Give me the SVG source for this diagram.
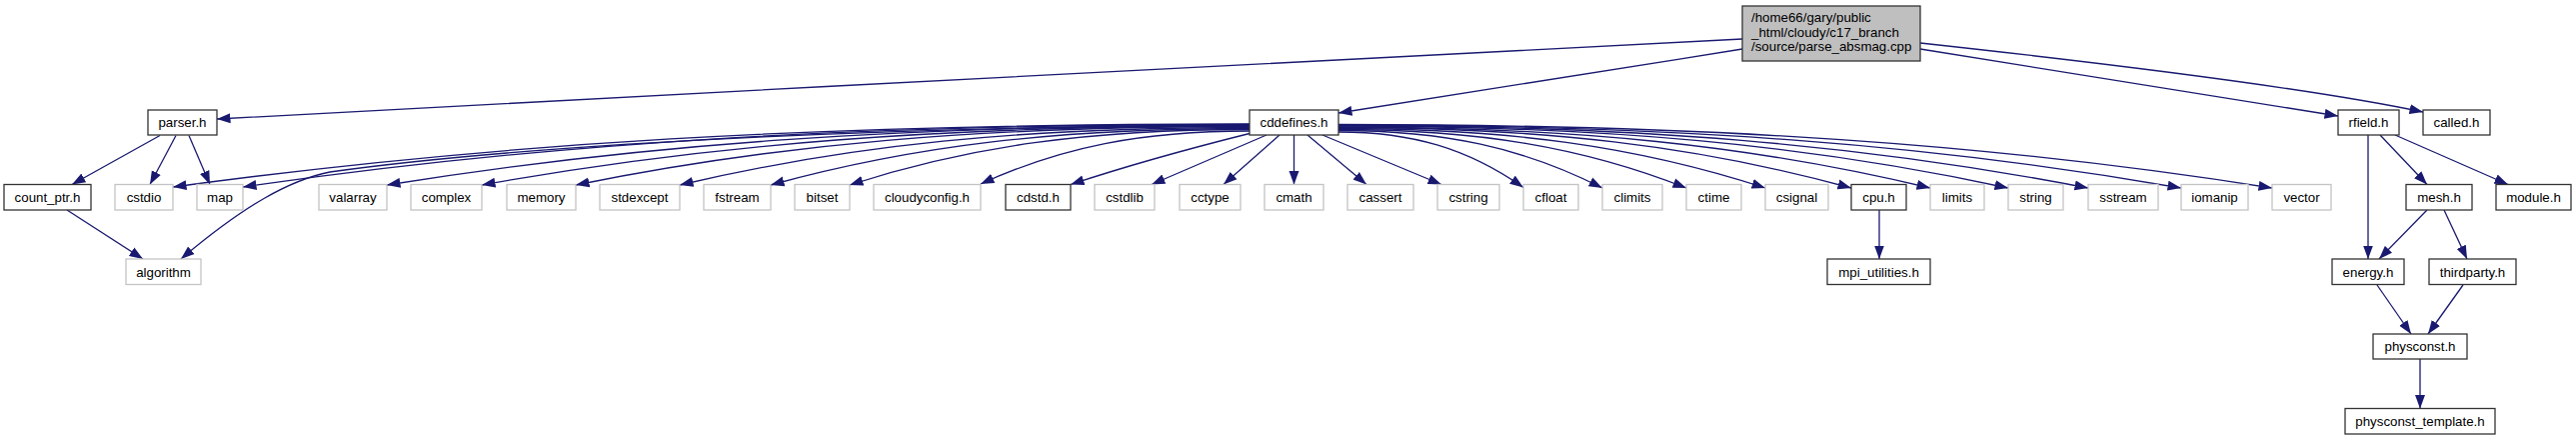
<svg xmlns="http://www.w3.org/2000/svg" width="2577" height="440" viewBox="0 0 2577 440">
<style>
rect{stroke-width:1.3}
.d{fill:#fff;stroke:#333}
.u{fill:#fff;stroke:#c4c4c4}
.m{fill:#bfbfbf;stroke:#333}
text{font-family:"Liberation Sans",Arial,Helvetica,sans-serif;font-size:13.3px;fill:#000;text-anchor:middle}
.l{text-anchor:start}
#edges path{fill:none;stroke:#191970;stroke-width:1.3;marker-end:url(#arr)}
</style>
<defs>
<marker id="arr" markerUnits="userSpaceOnUse" markerWidth="14" markerHeight="11" viewBox="0 0 14 11" refX="13.5" refY="5.5" orient="auto">
<path d="M0,0.5 L13.5,5.5 L0,10.5 z" fill="#191970"/>
</marker>
</defs>
<rect width="2577" height="440" fill="#fff"/>
<g id="edges">
<path d="M1743,39 C1400,56 700,93 217,119"/>
<path d="M1743,49 C1600,72 1450,95 1339,113"/>
<path d="M1921,49 C2080,74 2230,98 2339,116"/>
<path d="M1921,43 C2150,68 2320,90 2424,112"/>
<path d="M160,135.5 L72,184.5"/>
<path d="M176,135.5 L150,184.5"/>
<path d="M189,135.5 L210,184.5"/>
<path d="M67,210 L143,259"/>
<path d="M1250,124 C819,124 496,142.9 173,187"/>
<path d="M1250,124.5 C847,124.5 545,143.2 243,187"/>
<path d="M1250,125 C950,126 560,140 330,172 C290,180 245,205 181,259"/>
<path d="M1250,125.5 C905,125.5 646,143.4 387,185"/>
<path d="M1250,126 C943,126 712,143.7 482,185"/>
<path d="M1250,126.5 C980,126.5 778,144 576,185"/>
<path d="M1250,127.5 C1022,127.5 851,144.8 680,185"/>
<path d="M1250,128.5 C1058,128.5 915,145.5 771,185"/>
<path d="M1250,129.5 C1090,129.5 970,146.2 850,185"/>
<path d="M1250,131 C1142,131 1062,146.9 981,184"/>
<path d="M1250,133.5 C1200,146 1130,165 1071,184.5"/>
<path d="M1267,135 L1152,184.5"/>
<path d="M1280,135 L1224,184.5"/>
<path d="M1294.5,135 L1294.5,184.5"/>
<path d="M1308,135 L1367,184.5"/>
<path d="M1323,135 L1442,184.5"/>
<path d="M1339,132 C1413,132 1468.5,148.7 1524,187.5"/>
<path d="M1339,130.5 C1445,130.5 1524,147.8 1603,188"/>
<path d="M1339,129.5 C1478,129.5 1583,147 1687,188"/>
<path d="M1339,128.5 C1510,128.5 1638,146.4 1766,188"/>
<path d="M1339,127.5 C1544,127.5 1698,145.7 1852,188"/>
<path d="M1339,127 C1576,127 1753,145.3 1931,188"/>
<path d="M1339,126 C1607,126 1808,144.6 2009,188"/>
<path d="M1339,125.5 C1639,125.5 1864,144.3 2089,188"/>
<path d="M1339,125 C1676,125 1929,143.9 2182,188"/>
<path d="M1339,124.5 C1713,124.5 1993,143.6 2273,188"/>
<path d="M1880,210 L1880,259"/>
<path d="M2369,135 L2369,259"/>
<path d="M2381,135 L2428,184.5"/>
<path d="M2396,135 L2509,184.5"/>
<path d="M2428,210 L2380,259"/>
<path d="M2445,210 L2468,259"/>
<path d="M2378,285 L2412,334"/>
<path d="M2464,285 L2429,334"/>
<path d="M2421,359 L2421,408.5"/>
</g>
<g id="main"><rect class="m" x="1743" y="6" width="178" height="55"/><text class="l" x="1752" y="22">/home66/gary/public</text><text class="l" x="1752" y="36.7">_html/cloudy/c17_branch</text><text class="l" x="1752" y="51.3">/source/parse_absmag.cpp</text></g>
<g id="parser_h"><rect class="d" x="148" y="110" width="69" height="25"/><text x="182.5" y="127.2">parser.h</text></g>
<g id="cddefines_h"><rect class="d" x="1250" y="110" width="89" height="25"/><text x="1294.5" y="127.2">cddefines.h</text></g>
<g id="rfield_h"><rect class="d" x="2339" y="110" width="61" height="25"/><text x="2369.5" y="127.2">rfield.h</text></g>
<g id="called_h"><rect class="d" x="2424" y="110" width="67" height="25"/><text x="2457.5" y="127.2">called.h</text></g>
<g id="count_ptr_h"><rect class="d" x="4" y="184.5" width="87" height="25.5"/><text x="47.5" y="202">count_ptr.h</text></g>
<g id="cstdio"><rect class="u" x="115" y="184.5" width="58" height="25.5"/><text x="144" y="202">cstdio</text></g>
<g id="map"><rect class="u" x="197" y="184.5" width="46" height="25.5"/><text x="220" y="202">map</text></g>
<g id="valarray"><rect class="u" x="319" y="184.5" width="68" height="25.5"/><text x="353" y="202">valarray</text></g>
<g id="complex"><rect class="u" x="411" y="184.5" width="71" height="25.5"/><text x="446.5" y="202">complex</text></g>
<g id="memory"><rect class="u" x="507" y="184.5" width="69" height="25.5"/><text x="541.5" y="202">memory</text></g>
<g id="stdexcept"><rect class="u" x="600" y="184.5" width="80" height="25.5"/><text x="640" y="202">stdexcept</text></g>
<g id="fstream"><rect class="u" x="704" y="184.5" width="67" height="25.5"/><text x="737.5" y="202">fstream</text></g>
<g id="bitset"><rect class="u" x="795" y="184.5" width="55" height="25.5"/><text x="822.5" y="202">bitset</text></g>
<g id="cloudyconfig_h"><rect class="u" x="874" y="184.5" width="107" height="25.5"/><text x="927.5" y="202">cloudyconfig.h</text></g>
<g id="cdstd_h"><rect class="d" x="1006" y="184.5" width="65" height="25.5"/><text x="1038.5" y="202">cdstd.h</text></g>
<g id="cstdlib"><rect class="u" x="1095" y="184.5" width="60" height="25.5"/><text x="1125" y="202">cstdlib</text></g>
<g id="cctype"><rect class="u" x="1180" y="184.5" width="61" height="25.5"/><text x="1210.5" y="202">cctype</text></g>
<g id="cmath"><rect class="u" x="1265" y="184.5" width="59" height="25.5"/><text x="1294.5" y="202">cmath</text></g>
<g id="cassert"><rect class="u" x="1348" y="184.5" width="66" height="25.5"/><text x="1381" y="202">cassert</text></g>
<g id="cstring"><rect class="u" x="1438" y="184.5" width="62" height="25.5"/><text x="1469" y="202">cstring</text></g>
<g id="cfloat"><rect class="u" x="1524" y="184.5" width="55" height="25.5"/><text x="1551.5" y="202">cfloat</text></g>
<g id="climits"><rect class="u" x="1603" y="184.5" width="60" height="25.5"/><text x="1633" y="202">climits</text></g>
<g id="ctime"><rect class="u" x="1687" y="184.5" width="55" height="25.5"/><text x="1714.5" y="202">ctime</text></g>
<g id="csignal"><rect class="u" x="1766" y="184.5" width="63" height="25.5"/><text x="1797.5" y="202">csignal</text></g>
<g id="cpu_h"><rect class="d" x="1852" y="184.5" width="55" height="25.5"/><text x="1879.5" y="202">cpu.h</text></g>
<g id="limits"><rect class="u" x="1931" y="184.5" width="54" height="25.5"/><text x="1958" y="202">limits</text></g>
<g id="string"><rect class="u" x="2009" y="184.5" width="55" height="25.5"/><text x="2036.5" y="202">string</text></g>
<g id="sstream"><rect class="u" x="2089" y="184.5" width="70" height="25.5"/><text x="2124" y="202">sstream</text></g>
<g id="iomanip"><rect class="u" x="2182" y="184.5" width="67" height="25.5"/><text x="2215.5" y="202">iomanip</text></g>
<g id="vector"><rect class="u" x="2273" y="184.5" width="59" height="25.5"/><text x="2302.5" y="202">vector</text></g>
<g id="mesh_h"><rect class="d" x="2407" y="184.5" width="66" height="25.5"/><text x="2440" y="202">mesh.h</text></g>
<g id="module_h"><rect class="d" x="2497" y="184.5" width="75" height="25.5"/><text x="2534.5" y="202">module.h</text></g>
<g id="algorithm"><rect class="u" x="126" y="259" width="75" height="25.5"/><text x="163.5" y="276.5">algorithm</text></g>
<g id="mpi_utilities_h"><rect class="d" x="1828" y="259" width="103" height="25.5"/><text x="1879.5" y="276.5">mpi_utilities.h</text></g>
<g id="energy_h"><rect class="d" x="2333" y="259" width="72" height="25.5"/><text x="2369" y="276.5">energy.h</text></g>
<g id="thirdparty_h"><rect class="d" x="2430" y="259" width="87" height="25.5"/><text x="2473.5" y="276.5">thirdparty.h</text></g>
<g id="physconst_h"><rect class="d" x="2374" y="334" width="94" height="25"/><text x="2421" y="351.2">physconst.h</text></g>
<g id="physconst_template_h"><rect class="d" x="2346" y="408.5" width="150" height="25.5"/><text x="2421" y="426">physconst_template.h</text></g>
</svg>
